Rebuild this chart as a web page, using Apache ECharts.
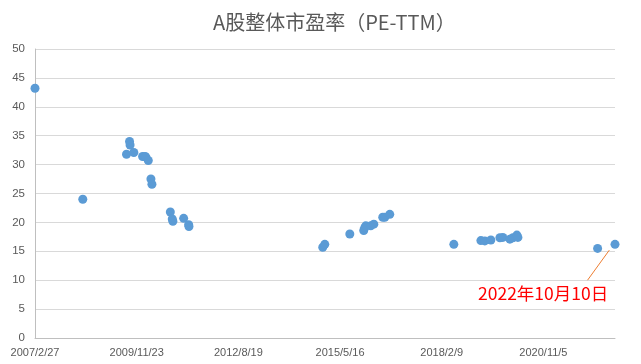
<!DOCTYPE html>
<html><head><meta charset="utf-8">
<script src="https://cdn.jsdelivr.net/npm/echarts@6/dist/echarts.min.js"></script>
<style>html,body{margin:0;padding:0;background:#fff}#c{width:641px;height:364px}</style>
</head><body><div id="c"></div>
<script>
const chartTitle = 'A股整体市盈率（PE-TTM）';
const baseDate = '2007/2/27';
const dates = ['2007/2/27','2008/6/11','2009/8/15','2009/9/14','2009/9/19','2009/10/26','2010/1/20','2010/2/12','2010/2/22','2010/3/17','2010/4/12','2010/4/22','2010/10/20','2010/11/8','2010/11/14','2011/2/28','2011/4/18','2011/4/21','2014/11/27','2014/12/17','2015/8/20','2016/1/4','2016/1/14','2016/1/24','2016/3/13','2016/4/12','2016/7/9','2016/7/29','2016/9/16','2018/6/8','2019/3/1','2019/4/9','2019/6/7','2019/9/4','2019/10/3','2019/12/11','2020/1/10','2020/2/18','2020/2/28','2022/4/22','2022/10/10'];
const peValues = [43.2,24.0,31.8,34.0,33.4,32.1,31.4,31.4,31.3,30.7,27.5,26.6,21.8,20.6,20.2,20.7,19.6,19.3,15.7,16.2,18.0,18.6,19.1,19.4,19.4,19.7,20.9,20.9,21.4,16.2,16.85,16.8,16.95,17.35,17.4,17.1,17.35,17.8,17.4,15.5,16.2];
const annotationText = '2022年10月10日';

function toUTC(s){const p=s.split('/').map(Number);return Date.UTC(p[0],p[1]-1,p[2]);}
const base = toUTC(baseDate);
const dayOf = s => Math.round((toUTC(s)-base)/86400000);
function fmt(d){const t=new Date(base+d*86400000);return t.getUTCFullYear()+'/'+(t.getUTCMonth()+1)+'/'+t.getUTCDate();}
const pts = dates.map((d,i)=>[dayOf(d),peValues[i]]);
const last = pts[pts.length-1];

const chart = echarts.init(document.getElementById('c'));
chart.setOption({
  animation:false,
  title:{text:chartTitle,left:208,top:7,textStyle:{fontFamily:'Noto Sans CJK SC',fontSize:20,fontWeight:'normal',color:'#595959'}},
  grid:{left:35,right:26,top:49,bottom:26,containLabel:false},
  xAxis:{type:'value',min:0,max:last[0],interval:1000,
    axisLine:{show:true,lineStyle:{color:'#BFBFBF'}},axisTick:{show:false},splitLine:{show:false},
    axisLabel:{showMaxLabel:false,formatter:v=>fmt(v),fontFamily:'Liberation Sans',fontSize:11,color:'#595959',margin:9}},
  yAxis:{type:'value',min:0,max:50,interval:5,
    axisLine:{show:true,lineStyle:{color:'#BFBFBF'}},axisTick:{show:false},
    splitLine:{lineStyle:{color:'#D9D9D9'}},
    axisLabel:{fontFamily:'Liberation Sans',fontSize:11.5,color:'#595959',margin:10}},
  series:[{type:'scatter',data:pts,symbol:'circle',symbolSize:9,
    itemStyle:{color:'#5B9BD5',opacity:1},
    markLine:{silent:true,symbol:['none','none'],label:{show:false},
      lineStyle:{color:'#ED7D31',width:1,type:'solid'},
      data:[[{coord:[last[0]-56,last[1]-1]},{coord:[last[0]-270,last[1]-6.2]}]]}
  }],
  graphic:[{type:'text',left:478,top:285,style:{text:annotationText,fontFamily:'Noto Sans CJK SC',fontSize:17.5,fill:'#FF0000'}}]
});
</script></body></html>
